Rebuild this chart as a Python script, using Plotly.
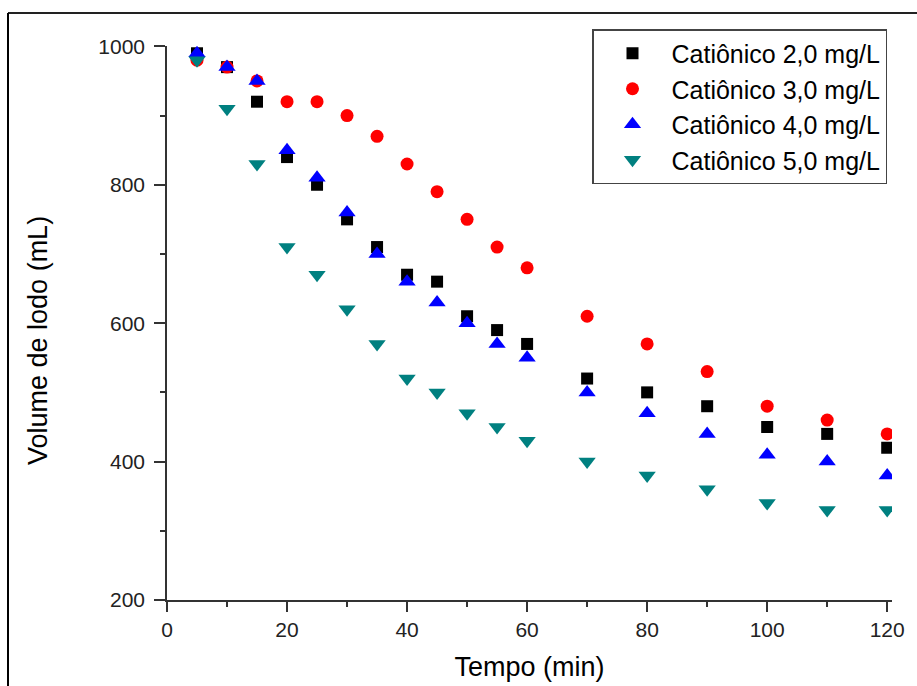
import plotly.graph_objects as go

tempo = [5, 10, 15, 20, 25, 30, 35, 40, 45, 50, 55, 60, 70, 80, 90, 100, 110, 120]
cat_2 = [990, 970, 920, 840, 800, 750, 710, 670, 660, 610, 590, 570, 520, 500, 480, 450, 440, 420]
cat_3 = [980, 970, 950, 920, 920, 900, 870, 830, 790, 750, 710, 680, 610, 570, 530, 480, 460, 440]
cat_4 = [990, 970, 950, 850, 810, 760, 700, 660, 630, 600, 570, 550, 500, 470, 440, 410, 400, 380]
cat_5 = [980, 910, 830, 710, 670, 620, 570, 520, 500, 470, 450, 430, 400, 380, 360, 340, 330, 330]

names = ["Catiônico 2,0 mg/L", "Catiônico 3,0 mg/L", "Catiônico 4,0 mg/L", "Catiônico 5,0 mg/L"]
series = [cat_2, cat_3, cat_4, cat_5]
colors = ["#000000", "#FF0000", "#0000FF", "#008080"]
symbols = ["square", "circle", "triangle-up", "triangle-down"]
sizes = [12, 13, 15, 15]

fig = go.Figure()
for i in range(4):
    fig.add_trace(go.Scatter(
        x=tempo, y=series[i], mode="markers", name=names[i],
        marker=dict(symbol=symbols[i], color=colors[i], size=sizes[i], line=dict(width=0)),
    ))

W, H = 917, 686
ml, mr, mt, mb = 167, 25, 46, 86
pw = W - ml - mr
ph = H - mt - mb

def px(x):
    return (x - ml) / pw

def py(y):
    return 1 - (y - mt) / ph

fig.update_layout(
    width=W, height=H,
    margin=dict(l=ml, r=mr, t=mt, b=mb),
    paper_bgcolor="white", plot_bgcolor="white",
    font=dict(family="Liberation Sans, Arial, sans-serif", color="#000000"),
    showlegend=True,
    legend=dict(
        x=px(592), y=py(29), xanchor="left", yanchor="top",
        bgcolor="white", bordercolor="#444444", borderwidth=1.5,
        font=dict(size=25, color="#000000"),
        tracegroupgap=0, itemwidth=68,
    ),
    xaxis=dict(
        range=[0, 120.8], showgrid=False, zeroline=False, automargin=False,
        showline=True, linecolor="#333333", linewidth=1.5,
        ticks="outside", ticklen=10, tickwidth=1.5, tickcolor="#333333",
        tickvals=[0, 20, 40, 60, 80, 100, 120],
        minor=dict(ticks="outside", ticklen=5, tickwidth=1.5, tickcolor="#333333", dtick=10),
        tickfont=dict(size=21, color="#222222"),
        title=dict(text="Tempo (min)", font=dict(size=27), standoff=17),
    ),
    yaxis=dict(
        range=[200, 1000.5], showgrid=False, zeroline=False, automargin=False,
        showline=True, linecolor="#333333", linewidth=1.5,
        ticks="outside", ticklen=11, tickwidth=1.5, tickcolor="#333333",
        tickvals=[200, 400, 600, 800, 1000],
        minor=dict(ticks="outside", ticklen=5, tickwidth=1.5, tickcolor="#333333", dtick=100),
        tickfont=dict(size=21, color="#222222"),
        ticklabelstandoff=5,
    ),
    annotations=[
        dict(text="Volume de lodo (mL)", textangle=-90, xref="paper", yref="paper",
             x=px(38), y=py(341), xanchor="center", yanchor="middle", showarrow=False,
             font=dict(size=27, color="#000000")),
    ],
    shapes=[
        dict(type="line", xref="paper", yref="paper", x0=px(8), x1=px(930), y0=py(13), y1=py(13),
             line=dict(color="#222222", width=2)),
        dict(type="line", xref="paper", yref="paper", x0=px(8), x1=px(8), y0=py(13), y1=py(700),
             line=dict(color="#000000", width=2)),
    ],
)

fig.write_html("out.html")
